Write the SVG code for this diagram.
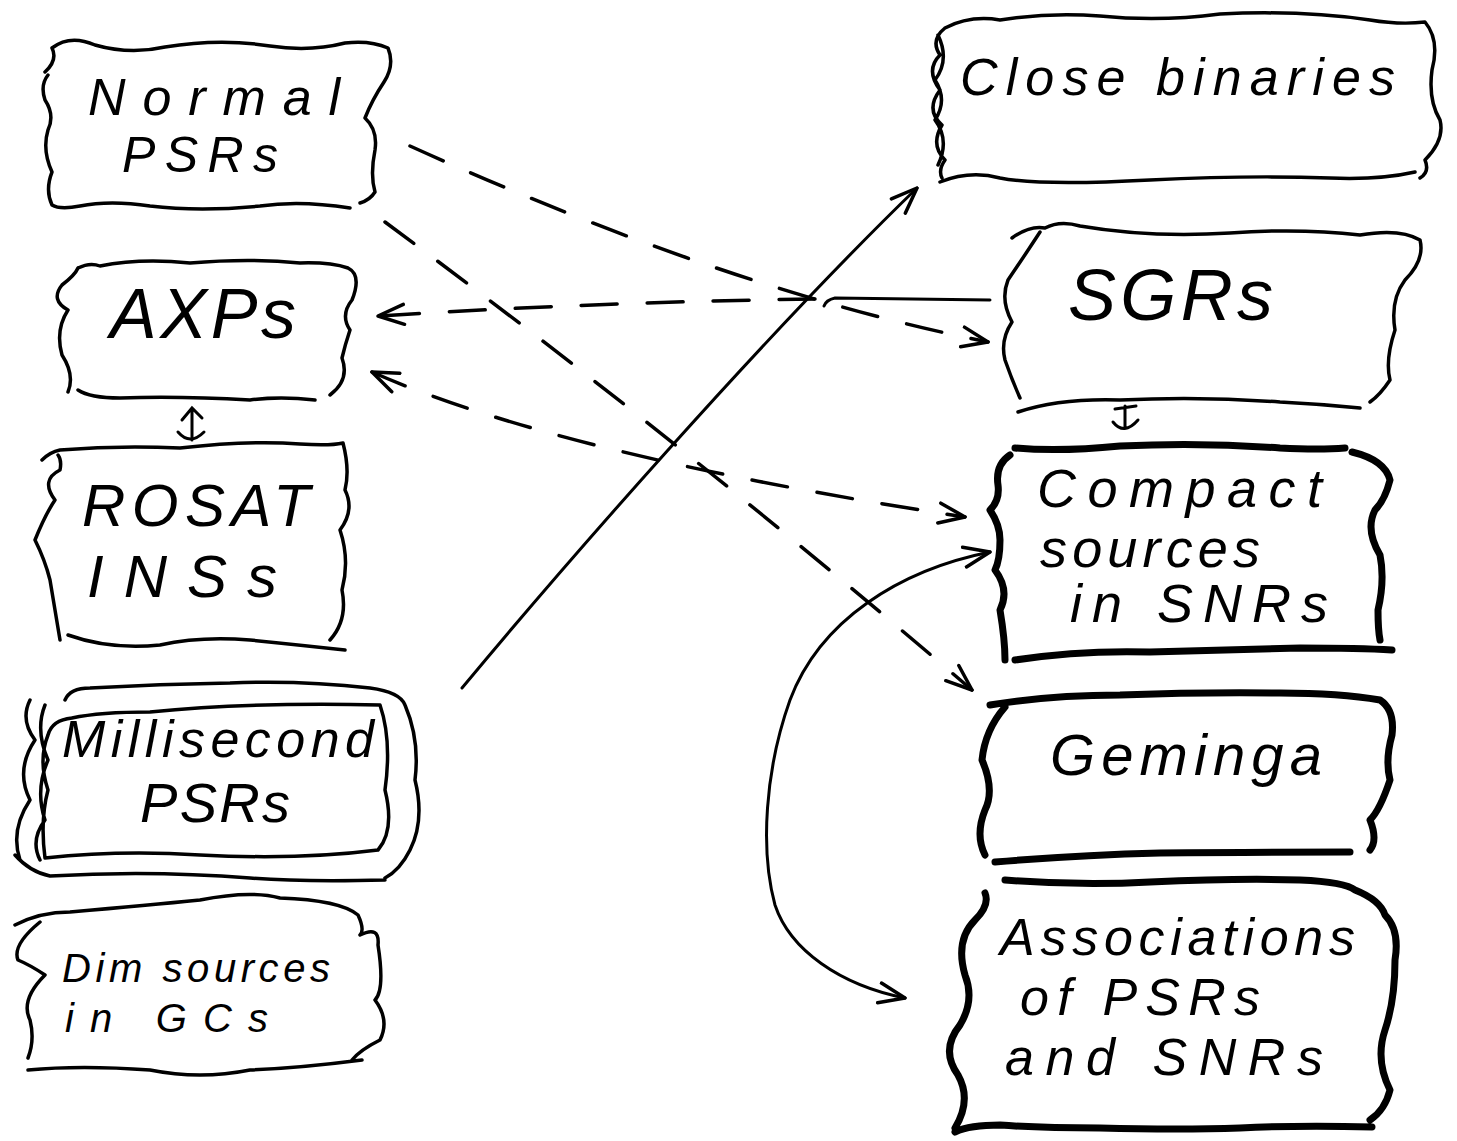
<svg xmlns="http://www.w3.org/2000/svg" width="1457" height="1141" viewBox="0 0 1457 1141">
<style>
.box{fill:none;stroke:#000;stroke-width:3.5;stroke-linecap:round;stroke-linejoin:round}
.thick{fill:none;stroke:#000;stroke-width:7;stroke-linecap:round;stroke-linejoin:round}
.lbl{font-family:"Liberation Sans",Arial,sans-serif;font-style:italic;fill:#000}
.solid{fill:none;stroke:#000;stroke-width:3;stroke-linecap:round}
.dash{fill:none;stroke:#000;stroke-width:3.5;stroke-linecap:round;stroke-dasharray:36 30}
</style>
<defs>
<marker id="arr" viewBox="0 0 30 24" refX="28" refY="12" markerWidth="30" markerHeight="24" markerUnits="userSpaceOnUse" orient="auto-start-reverse">
<path d="M2,2 L28,12 L2,22" fill="none" stroke="#000" stroke-width="3.5" stroke-linecap="round" stroke-linejoin="round"/>
</marker>
</defs>
<rect width="1457" height="1141" fill="#fff"/>

<g id="connectors">
<path class="dash" d="M410 146 Q731 291 988 342" marker-end="url(#arr)"/>
<path class="dash" d="M385 222 Q680 440 972 690" marker-end="url(#arr)"/>
<path class="solid" d="M990 300 L835 298 Q826 300 824 306"/>
<path class="dash" d="M815 299 Q600 302 378 316" marker-end="url(#arr)"/>
<path class="dash" d="M372 372 Q560 455 965 517" marker-start="url(#arr)" marker-end="url(#arr)"/>
<path class="solid" d="M462 688 C560 570 760 340 917 188" marker-end="url(#arr)"/>
<path class="solid" d="M990 552 C900 570 820 620 790 700 C765 770 760 850 775 905 C790 950 840 985 905 998" marker-start="url(#arr)" marker-end="url(#arr)"/>
<path class="solid" d="M192 409 L192 440 M182 420 L192 408 L202 418 M178 432 Q190 446 204 432"/>
<path class="solid" d="M1125 406 L1125 428 M1115 409 L1136 406 M1113 422 Q1124 436 1138 420"/>
</g>

<g id="normal-psrs">
<path class="box" d="M45 72 Q58 60 52 48 Q70 34 95 45 Q130 55 165 47 Q220 38 270 46 Q310 52 345 43 Q370 40 388 48 Q395 65 384 82 Q372 100 365 118 Q378 130 375 150 Q370 175 375 192 Q370 200 360 203 M350 208 Q300 200 260 206 Q200 212 150 206 Q110 200 80 206 Q60 210 52 205 Q45 190 52 172 Q42 150 48 130 Q55 115 45 100 Q40 85 48 75"/>
<text class="lbl" x="88" y="115" font-size="52" textLength="252" lengthAdjust="spacing">Normal</text>
<text class="lbl" x="122" y="172" font-size="50" textLength="156" lengthAdjust="spacing">PSRs</text>
</g>

<g id="axps">
<path class="box" d="M78 268 Q90 262 100 266 Q140 258 190 263 Q250 258 300 263 Q330 262 348 268 Q362 275 352 300 Q340 315 350 330 Q345 345 342 358 Q350 380 330 395 M315 400 Q280 396 250 400 Q180 396 120 398 Q90 398 78 390 M68 392 Q75 375 62 355 Q55 330 68 310 Q50 300 62 285 Q75 275 78 268"/>
<text class="lbl" x="110" y="338" font-size="70" textLength="186" lengthAdjust="spacing">AXPs</text>
</g>

<g id="rosat-inss">
<path class="box" d="M42 460 Q50 452 60 450 Q120 445 180 448 Q250 440 300 444 Q330 446 343 443 Q350 470 345 490 Q355 510 340 530 Q350 560 342 590 Q348 620 330 640 M345 650 Q300 645 250 640 Q200 636 160 645 Q110 650 68 635 M60 640 Q55 610 50 580 Q45 560 35 540 Q45 515 55 500 Q40 480 60 470 Q62 460 58 455"/>
<text class="lbl" x="82" y="526" font-size="60" textLength="228" lengthAdjust="spacing">ROSAT</text>
<text class="lbl" x="87" y="597" font-size="60" textLength="190" lengthAdjust="spacing">INSs</text>
</g>

<g id="millisecond-psrs">
<path class="box" d="M65 700 Q70 688 90 688 Q160 684 230 683 Q300 680 370 688 Q400 692 405 705 Q420 740 415 780 Q425 820 410 850 Q400 870 385 878 M385 880 Q300 882 250 878 Q150 870 50 876 Q30 872 15 855 M30 700 Q20 720 35 740 Q15 770 30 800 Q10 830 20 860"/>
<path class="box" d="M72 718 Q100 712 150 712 Q250 702 380 705 Q392 740 385 790 Q395 830 378 850 Q300 860 200 855 Q120 850 45 858 Q40 820 48 790 Q38 760 48 735 Q52 720 72 718 M45 705 Q35 730 48 760 Q35 790 45 820 Q30 840 40 860"/>
<text class="lbl" x="62" y="757" font-size="52" textLength="312" lengthAdjust="spacing">Millisecond</text>
<text class="lbl" x="140" y="822" font-size="56" textLength="150" lengthAdjust="spacing">PSRs</text>
</g>

<g id="dim-sources">
<path class="box" d="M15 925 Q40 912 70 912 Q150 905 200 900 Q250 890 280 898 Q340 900 358 915 Q365 930 360 935 Q380 925 378 945 Q385 990 375 1000 Q390 1020 380 1040 Q360 1050 352 1060 M362 1060 Q300 1068 250 1070 Q200 1080 150 1070 Q80 1065 28 1070 M28 1058 Q35 1040 30 1020 Q20 1000 45 975 Q30 965 18 960 Q12 945 40 922"/>
<text class="lbl" x="62" y="982" font-size="40" textLength="268" lengthAdjust="spacing">Dim sources</text>
<text class="lbl" x="65" y="1032" font-size="40" textLength="203" lengthAdjust="spacing">in GCs</text>
</g>

<g id="close-binaries">
<path class="box" d="M945 28 Q970 15 1000 20 Q1050 12 1100 16 Q1160 22 1220 14 Q1300 10 1370 20 Q1400 25 1425 22 Q1440 40 1432 70 Q1428 100 1440 120 Q1445 140 1425 160 Q1430 172 1420 178 M1415 172 Q1380 180 1330 178 Q1250 175 1150 180 Q1040 186 1000 178 Q970 170 940 182 M945 28 Q930 40 940 55 Q925 70 940 90 Q925 110 942 125 Q930 145 945 160 Q938 170 942 178 M938 35 Q950 60 935 80 Q948 100 935 120 Q950 140 938 165"/>
<text class="lbl" x="960" y="95" font-size="52" textLength="435" lengthAdjust="spacing">Close binaries</text>
</g>

<g id="sgrs">
<path class="box" d="M1012 238 Q1030 225 1045 228 Q1060 220 1080 226 Q1150 238 1230 233 Q1300 228 1360 235 Q1400 228 1420 240 Q1425 260 1405 280 Q1390 300 1395 330 Q1385 360 1390 380 Q1380 395 1370 402 M1360 408 Q1320 404 1280 402 Q1200 396 1120 400 Q1060 398 1018 412 M1020 398 Q1012 380 1005 360 Q1000 340 1012 322 Q1000 300 1008 280 Q1025 255 1040 232"/>
<text class="lbl" x="1068" y="320" font-size="72" textLength="205" lengthAdjust="spacing">SGRs</text>
</g>

<g id="compact-sources">
<path class="thick" d="M1015 448 Q1060 452 1120 446 Q1200 442 1280 448 Q1320 450 1345 448 M1352 452 Q1385 460 1390 480 Q1385 500 1375 510 Q1365 530 1380 555 Q1385 580 1378 610 Q1378 630 1380 640 M1015 660 Q1080 650 1150 652 Q1230 650 1300 648 Q1360 648 1392 650 M1010 455 Q995 465 998 485 Q1000 500 990 510 Q1000 525 1000 540 Q1000 560 995 570 Q1010 590 1000 610 Q1005 640 1005 660"/>
<text class="lbl" x="1037" y="507" font-size="54" textLength="285" lengthAdjust="spacing">Compact</text>
<text class="lbl" x="1040" y="567" font-size="54" textLength="220" lengthAdjust="spacing">sources</text>
<text class="lbl" x="1070" y="622" font-size="54" textLength="258" lengthAdjust="spacing">in SNRs</text>
</g>

<g id="geminga">
<path class="thick" d="M990 705 Q1050 695 1120 695 Q1200 692 1280 693 Q1340 693 1380 700 Q1395 710 1392 735 Q1385 760 1390 780 Q1380 810 1370 820 Q1378 840 1370 850 M995 862 Q1080 855 1160 853 Q1250 852 1350 852 M1005 707 Q985 730 982 760 Q995 790 985 810 Q975 835 985 855"/>
<text class="lbl" x="1050" y="775" font-size="58" textLength="272" lengthAdjust="spacing">Geminga</text>
</g>

<g id="associations">
<path class="thick" d="M1005 880 Q1080 886 1150 882 Q1240 878 1300 880 Q1345 882 1355 890 Q1380 900 1385 915 Q1400 930 1395 960 Q1395 1000 1385 1030 Q1375 1060 1390 1090 Q1385 1110 1370 1120 M1372 1127 Q1300 1125 1240 1128 Q1180 1130 1100 1128 Q1040 1128 1000 1125 Q970 1125 955 1132 M985 893 Q990 905 975 920 Q955 940 965 975 Q975 1000 960 1025 Q940 1050 958 1075 Q972 1100 955 1128"/>
<text class="lbl" x="1000" y="955" font-size="52" textLength="355" lengthAdjust="spacing">Associations</text>
<text class="lbl" x="1020" y="1015" font-size="52" textLength="240" lengthAdjust="spacing">of PSRs</text>
<text class="lbl" x="1005" y="1075" font-size="52" textLength="318" lengthAdjust="spacing">and SNRs</text>
</g>
</svg>
